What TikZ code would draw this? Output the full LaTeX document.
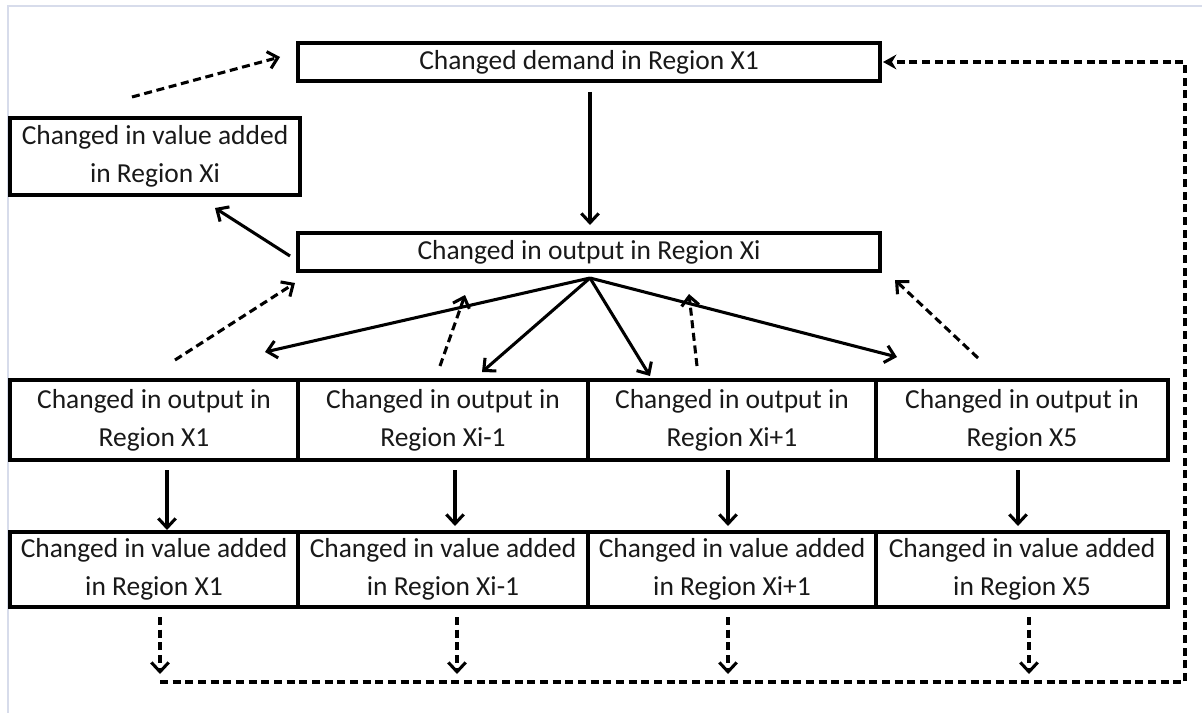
\documentclass[tikz,border=0pt]{standalone}
\usepackage{fontspec}
\setmainfont{Carlito}
\usetikzlibrary{arrows.meta}
\definecolor{frame}{RGB}{215,220,235}
\definecolor{txt}{RGB}{25,25,25}
\tikzset{
  box/.style={draw=black, line width=2.8pt, inner sep=0pt, align=center, text=txt,
    font=\fontsize{20.6}{28.5}\selectfont},
  sarrow/.style={draw=black, line width=2.3pt, -{Straight Barb[length=7pt,width=13pt,line width=2.3pt]}},
  darrow/.style={sarrow, dash pattern=on 6pt off 3.5pt},
  dline/.style={draw=black, line width=2.3pt, dash pattern=on 6pt off 3.5pt}
}
\begin{document}
\begin{tikzpicture}[x=0.75pt,y=-0.75pt]
\useasboundingbox (0,0) rectangle (1202,713);
\fill[white] (0,0) rectangle (1202,713);
\draw[frame, line width=1.5pt] (8,713) -- (8,6) -- (1202,6);

% boxes
\node[box, minimum width={582*0.75pt}, minimum height={38*0.75pt}] (top) at (589,62) {Changed demand in Region X1};
\node[box, minimum width={290*0.75pt}, minimum height={77*0.75pt}] (vxi) at (155,156.5) {Changed in value added\\in Region Xi};
\node[box, minimum width={582*0.75pt}, minimum height={38*0.75pt}] (mid) at (589,252) {Changed in output in Region Xi};

\node[box, minimum width={288*0.75pt}, minimum height={80*0.75pt}] (o1) at (154,420) {Changed in output in\\Region X1};
\node[box, minimum width={290*0.75pt}, minimum height={80*0.75pt}] (o2) at (443,420) {Changed in output in\\Region Xi-1};
\node[box, minimum width={288*0.75pt}, minimum height={80*0.75pt}] (o3) at (732,420) {Changed in output in\\Region Xi+1};
\node[box, minimum width={292*0.75pt}, minimum height={80*0.75pt}] (o4) at (1022,420) {Changed in output in\\Region X5};

\node[box, minimum width={288*0.75pt}, minimum height={75*0.75pt}] (v1) at (154,569.5) {Changed in value added\\in Region X1};
\node[box, minimum width={290*0.75pt}, minimum height={75*0.75pt}] (v2) at (443,569.5) {Changed in value added\\in Region Xi-1};
\node[box, minimum width={288*0.75pt}, minimum height={75*0.75pt}] (v3) at (732,569.5) {Changed in value added\\in Region Xi+1};
\node[box, minimum width={292*0.75pt}, minimum height={75*0.75pt}] (v4) at (1022,569.5) {Changed in value added\\in Region X5};

% free-end coordinates
\coordinate (fanout) at (590,278);
\coordinate (a1) at (265,352);
\coordinate (a2) at (482,372);
\coordinate (a3) at (650,376);
\coordinate (a4) at (897,357);
\coordinate (d1s) at (175,360); \coordinate (d1e) at (295,283);
\coordinate (d2s) at (440,366); \coordinate (d2e) at (465,295);
\coordinate (d3s) at (697,366); \coordinate (d3e) at (689,294);
\coordinate (d4s) at (978,358); \coordinate (d4e) at (895,280);
\coordinate (tls) at (132,97); \coordinate (tle) at (280,57);
\coordinate (vxs) at (290,256); \coordinate (vxe) at (215,208);
\coordinate (ts) at (590,92); \coordinate (te) at (590,225);

% top area
\draw[sarrow] (ts) -- (te);
\draw[darrow] (tls) -- (tle);
\draw[sarrow] (vxs) -- (vxe);

% fan-out
\draw[sarrow] (fanout) -- (a1);
\draw[sarrow] (fanout) -- (a2);
\draw[sarrow] (fanout) -- (a3);
\draw[sarrow] (fanout) -- (a4);
\draw[darrow] (d1s) -- (d1e);
\draw[darrow] (d2s) -- (d2e);
\draw[darrow] (d3s) -- (d3e);
\draw[darrow] (d4s) -- (d4e);

% output -> value added
\coordinate (s1a) at (167,470); \coordinate (s1b) at (167,530);
\coordinate (s2a) at (455,470); \coordinate (s2b) at (455,526);
\coordinate (s3a) at (728,470); \coordinate (s3b) at (728,526);
\coordinate (s4a) at (1018,470); \coordinate (s4b) at (1018,526);
\draw[sarrow] (s1a) -- (s1b);
\draw[sarrow] (s2a) -- (s2b);
\draw[sarrow] (s3a) -- (s3b);
\draw[sarrow] (s4a) -- (s4b);

% value added -> feedback line
\coordinate (b1a) at (160,617); \coordinate (b1b) at (160,674);
\coordinate (b2a) at (457,617); \coordinate (b2b) at (457,674);
\coordinate (b3a) at (728,617); \coordinate (b3b) at (728,674);
\coordinate (b4a) at (1029,617); \coordinate (b4b) at (1029,674);
\draw[darrow] (b1a) -- (b1b);
\draw[darrow] (b2a) -- (b2b);
\draw[darrow] (b3a) -- (b3b);
\draw[darrow] (b4a) -- (b4b);

\coordinate (fb0) at (160,682);
\coordinate (fb1) at (1185,682);
\coordinate (fb2) at (1185,62);
\coordinate (fbe) at (883,62);
\draw[dline, -{Stealth[length=10pt,width=11pt]}] (fb0) -- (fb1) -- (fb2) -- (fbe);
\end{tikzpicture}
\end{document}
